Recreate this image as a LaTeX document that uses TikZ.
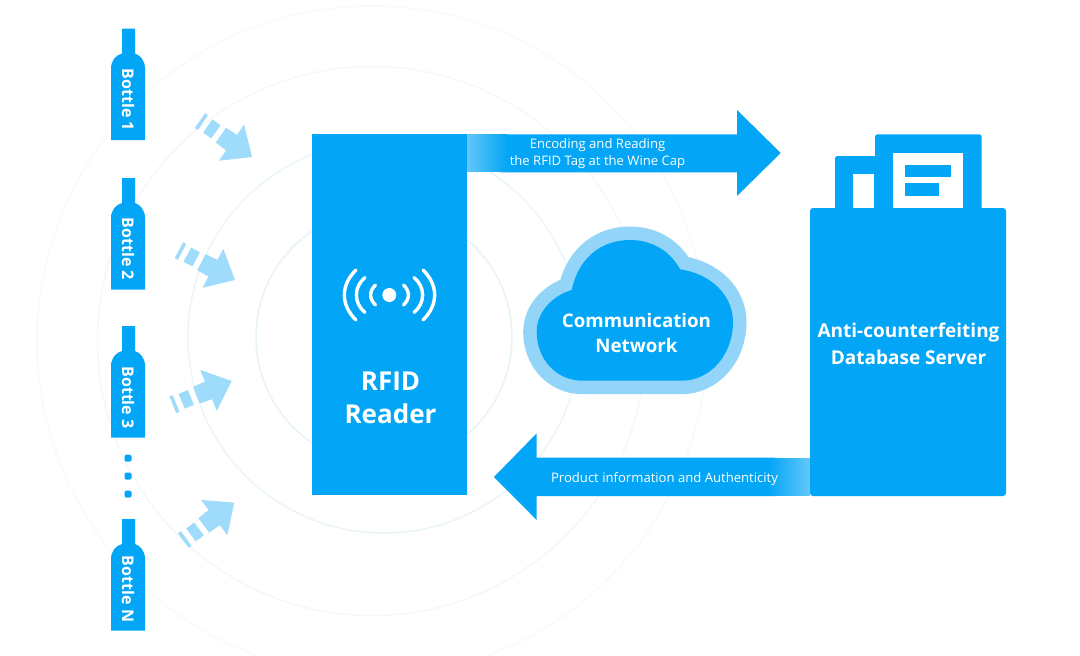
\documentclass[tikz,border=0pt]{standalone}
\usepackage{fontspec}
\setmainfont{Open Sans}
\definecolor{mainblue}{HTML}{03A6F6}
\definecolor{paleblue}{HTML}{9FDBFA}
\definecolor{cloudring}{HTML}{93D5F8}
\definecolor{fadeblue}{HTML}{62C7F9}
\definecolor{ringa}{HTML}{E6F4F9}
\definecolor{ringb}{HTML}{EAF6FA}
\definecolor{ringc}{HTML}{F1F9FB}
\definecolor{ringd}{HTML}{F6FBFC}
\tikzset{
  x=1pt,y=-1pt,
  ringline/.style={line width=1.5pt,fill=none},
  boxshape/.style={fill=mainblue,draw=none,inner sep=0pt,outer sep=0pt,rounded corners=1.5pt},
  wave/.style={draw=white,line width=3.4pt,line cap=round},
  lbl/.style={text=white,font=\fontsize{13.1}{17}\selectfont,align=center,inner sep=0pt},
  bottlelbl/.style={text=white,font=\bfseries\fontsize{16}{16}\selectfont,rotate=-90,inner sep=0pt},
  serverlbl/.style={text=white,font=\bfseries\fontsize{19}{27}\selectfont,align=center,inner sep=0pt},
  readerlbl/.style={text=white,font=\bfseries\fontsize{26}{33}\selectfont,align=center,inner sep=0pt},
  cloudlbl/.style={text=white,font=\bfseries\fontsize{18.7}{25}\selectfont,align=center,inner sep=0pt},
  bottleshape/.pic={
    \fill[mainblue] (122,0) -- (135,0) -- (135,25)
      .. controls (140,26.5) and (145,32) .. (145,40) -- (145,111.5) -- (111,111.5) -- (111,40)
      .. controls (111,32) and (116,26.5) .. (122,25) -- cycle;
  },
  tagarrow/.pic={
    \fill[paleblue] (0,0) -- (-25,22) -- (-25,9.5) -- (-38,9) -- (-38,-9) -- (-25,-9.5) -- (-25,-22) -- cycle;
    \fill[paleblue] (-54,-8) rectangle (-44,8);
    \fill[paleblue] (-63.5,-9) rectangle (-60,9);
  }
}
\begin{document}
\begin{tikzpicture}
\useasboundingbox (0,0) rectangle (1080,656);
\fill[white] (0,0) rectangle (1080,656);
% rings
\begin{scope}
\clip (0,0) rectangle (1080,656);
\draw[ringline,ringa] (384,337) circle[radius=128];
\draw[ringline,ringb] (384,337) circle[radius=196];
\draw[ringline,ringc] (372,341) circle[radius=274.5];
\draw[ringline,ringd] (372,341) circle[radius=335];
\end{scope}
% bottles
\pic at (0,28.5) {bottleshape};
\pic at (0,178) {bottleshape};
\pic at (0,326) {bottleshape};
\pic at (0,519) {bottleshape};
\node[bottlelbl] (b1) at (128,100) {Bottle 1};
\node[bottlelbl] (b2) at (128,249) {Bottle 2};
\node[bottlelbl] (b3) at (128,397.5) {Bottle 3};
\node[bottlelbl] (bn) at (128,589) {Bottle N};
\fill[mainblue,rounded corners=1.5pt] (124.5,454.5) rectangle (131.5,461.5);
\fill[mainblue,rounded corners=1.5pt] (124.5,472.5) rectangle (131.5,479.5);
\fill[mainblue,rounded corners=1.5pt] (124.5,490.5) rectangle (131.5,497.5);
% radio arrows
\pic[rotate=-35] at (252,157) {tagarrow};
\pic[rotate=-28] at (235,280) {tagarrow};
\pic[rotate=22] at (231.7,381) {tagarrow};
\pic[rotate=36.6] at (234.3,502.7) {tagarrow};
% top arrow
\fill[mainblue] (500,134.3) -- (737,134.3) -- (737,110) -- (780.7,153) -- (737,196) -- (737,172.3) -- (500,172.3) -- cycle;
\foreach \i in {0,...,39}{
  \pgfmathtruncatemacro{\pct}{\i*100/40}
  \fill[mainblue!\pct!fadeblue] (467+\i,134.3) rectangle (468.3+\i,172.3);
}
% bottom arrow
\fill[mainblue] (775,457.7) -- (536.7,457.7) -- (536.7,433.3) -- (494,477) -- (536.7,520) -- (536.7,496) -- (775,496) -- cycle;
\foreach \i in {0,...,39}{
  \pgfmathtruncatemacro{\pct}{\i*100/40}
  \fill[mainblue!\pct!fadeblue] (810-\i,457.7) rectangle (808.7-\i,496);
}
% reader
\node[boxshape,rounded corners=0pt,minimum width=155pt,minimum height=361pt] (reader) at (389.7,314.5) {};
\fill[white] (389.3,295) circle[radius=7];
\draw[wave] (375.5,285) .. controls (369,291) and (369,299) .. (375.5,305);
\draw[wave] (403.5,285) .. controls (410,291) and (410,299) .. (403.5,305);
\draw[wave] (365,277.5) .. controls (353.5,287) and (353.5,303) .. (365,312.5);
\draw[wave] (414,277.5) .. controls (425.5,287) and (425.5,303) .. (414,312.5);
\draw[wave] (356,270) .. controls (340.5,285) and (340.5,305) .. (356,320);
\draw[wave] (423,270) .. controls (438.5,285) and (438.5,305) .. (423,320);
\node[readerlbl] (readertxt) at (390.5,398) {RFID\\Reader};
% arrow labels
\node[lbl] (toplbl) at (597.5,154) {Encoding and Reading\\the RFID Tag at the Wine Cap};
\node[lbl] (botlbl) at (664.5,479) {Product information and Authenticity};
% cloud
\def\cloudpath{(583,380.7) .. controls (555,380.7) and (536.7,358) .. (536.7,332)
  .. controls (536.7,312) and (552,296) .. (571.7,290)
  .. controls (579,256) and (603,240) .. (630,240)
  .. controls (655,240) and (672,254) .. (680,269.3)
  .. controls (712,274) and (733,296) .. (733,322)
  .. controls (733,355) and (710,380.7) .. (681.7,380.7) -- cycle}
\draw[cloudring,line width=27pt,line join=round] \cloudpath;
\fill[mainblue] \cloudpath;
\node[cloudlbl] (cloud) at (636.5,332.5) {Communication\\Network};
% server
\fill[mainblue,rounded corners=2.5pt] (875,230) -- (875,134.3) -- (981.7,134.3) -- (981.7,230) -- cycle;
\fill[mainblue,rounded corners=2.5pt] (835,230) -- (835,156) -- (880,156) -- (880,230) -- cycle;
\fill[white] (852.7,174.3) rectangle (874.3,209);
\fill[white] (892.7,152.7) rectangle (963.3,209);
\fill[mainblue] (905,165) rectangle (951.3,177.3);
\fill[mainblue] (905,183.3) rectangle (939,195.7);
\node[boxshape,rounded corners=3pt,minimum width=196pt,minimum height=288pt] (server) at (908,352) {};
\node[serverlbl] (servertxt) at (908.5,343.5) {Anti-counterfeiting\\Database Server};
\end{tikzpicture}
\end{document}
